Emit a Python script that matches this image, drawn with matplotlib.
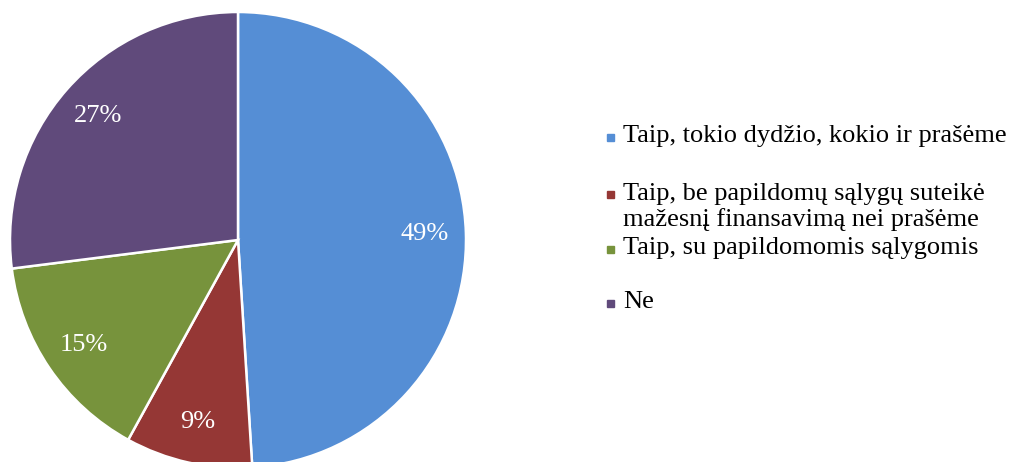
import numpy as np
import matplotlib.pyplot as plt
from matplotlib.patches import Rectangle

plt.rcParams['font.family'] = ['Liberation Serif', 'DejaVu Serif']

categories = [
    'Taip, tokio dydžio, kokio ir prašėme',
    'Taip, be papildomų sąlygų suteikė\nmažesnį finansavimą nei prašėme',
    'Taip, su papildomomis sąlygomis',
    'Ne',
]
values = [49, 9, 15, 27]
colors = ['#558ED5', '#953735', '#77933C', '#604A7B']

W, H = 1014, 462
fig = plt.figure(figsize=(W / 100, H / 100), dpi=100)
cx, cy, r = 238, 462 - 240, 228
ax = fig.add_axes([(cx - r) / W, (cy - r) / H, 2 * r / W, 2 * r / H])
ax.pie(values, colors=colors, startangle=90, counterclock=False,
       labels=[f'{v}%' for v in values], labeldistance=0.82,
       textprops=dict(color='white', fontsize=19, ha='center', va='center'),
       wedgeprops=dict(edgecolor='white', linewidth=1.8))
ax.set_xlim(-1, 1)
ax.set_ylim(-1, 1)
ax.set_aspect('equal')
ax.axis('off')
for t in ax.texts:
    t.set_horizontalalignment('center')

# legend
rows = [136, 207, 248, 302]
for name, col, y in zip(categories, colors, rows):
    top = y - 14 if '\n' in name else y
    fig.patches.append(Rectangle((607 / W, 1 - (top + 5) / H), 7 / W, 7 / H,
                                 transform=fig.transFigure, color=col))
    fig.text(623 / W, 1 - y / H, name, fontsize=19, va='center', ha='left',
             linespacing=1.15)

fig.savefig('out.png', dpi=100)
